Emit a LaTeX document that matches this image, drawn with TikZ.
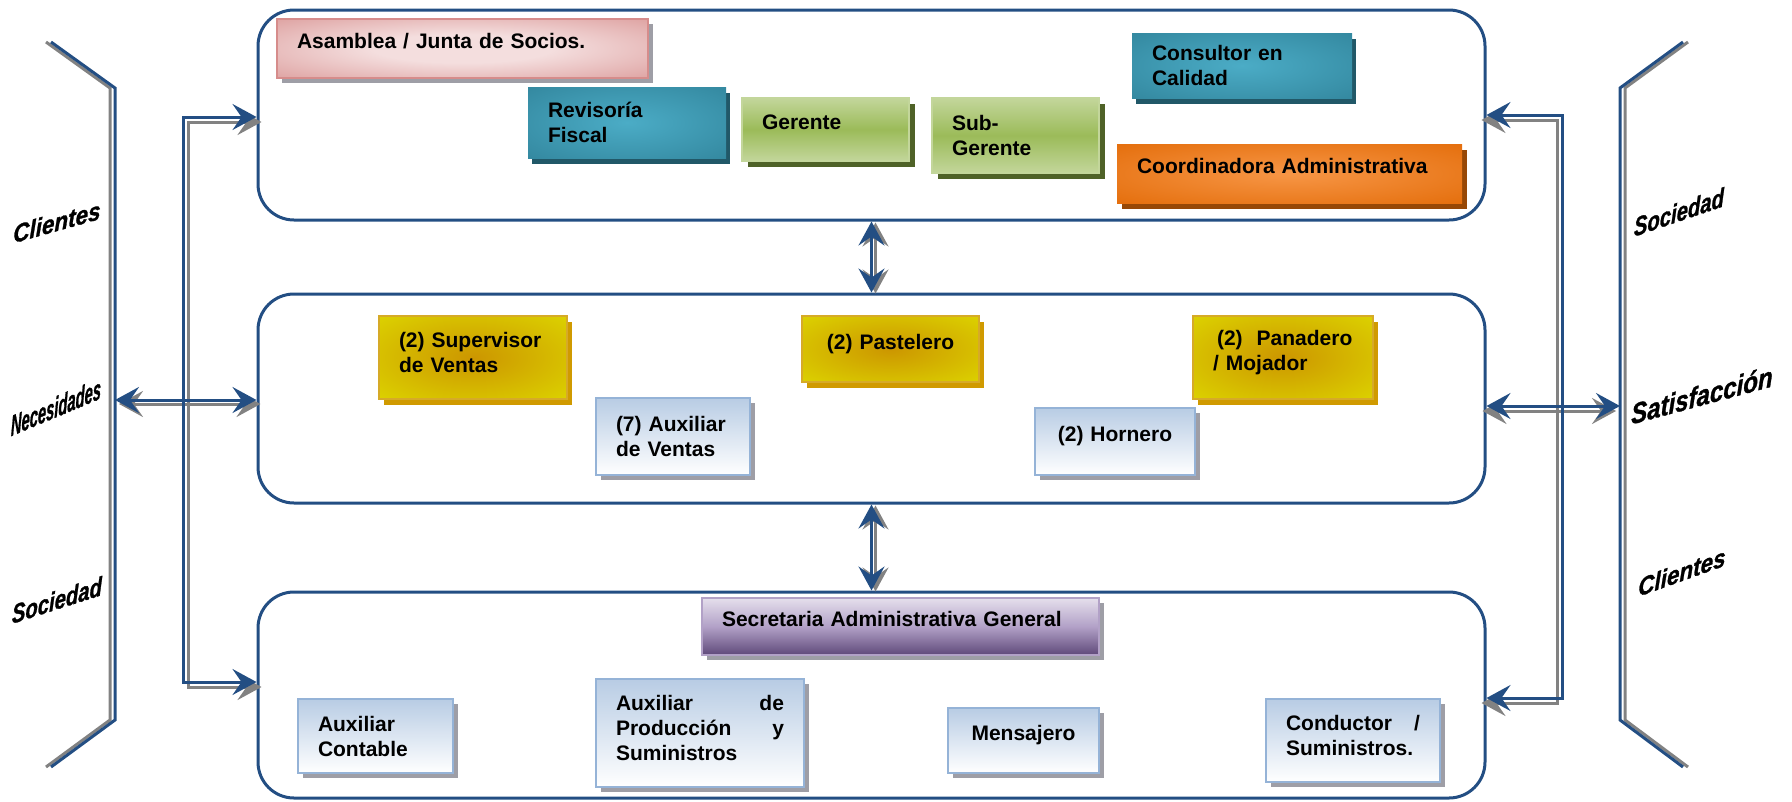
\documentclass[tikz,border=0pt]{standalone}
\usepackage{fontspec}
\setmainfont{Liberation Sans}
\IfFontExistsTF{Liberation Sans Bold Italic}
  {\newfontfamily\labfont{Liberation Sans Bold Italic}[FakeBold=1.2]}
  {\newcommand\labfont{\bfseries\itshape}}
\usepackage{graphicx}
\usetikzlibrary{arrows.meta,shadows}

% palette
\definecolor{navy}{RGB}{35,78,131}
\definecolor{shade}{RGB}{130,130,130}
\definecolor{pinkC}{RGB}{244,222,222}
\definecolor{pinkE}{RGB}{214,140,139}
\definecolor{tealC}{RGB}{75,172,198}
\definecolor{tealE}{RGB}{49,132,155}
\definecolor{tealS}{RGB}{33,88,104}
\definecolor{greenL}{RGB}{195,214,155}
\definecolor{greenM}{RGB}{155,187,89}
\definecolor{greenS}{RGB}{79,98,40}
\definecolor{orangeC}{RGB}{247,150,70}
\definecolor{orangeE}{RGB}{227,108,9}
\definecolor{orangeS}{RGB}{151,72,6}
\definecolor{goldC}{RGB}{204,150,0}
\definecolor{goldE}{RGB}{221,214,0}
\definecolor{goldS}{RGB}{208,154,0}
\definecolor{goldB}{RGB}{214,170,40}
\definecolor{lavT}{RGB}{229,223,236}
\definecolor{lavM}{RGB}{178,161,199}
\definecolor{lavB}{RGB}{95,73,122}
\definecolor{blueT}{RGB}{184,204,228}
\definecolor{blueB}{RGB}{149,179,215}
\definecolor{patgray}{RGB}{158,158,166}

% soft centre-to-edge glows for the box fills
\pgfdeclareradialshading{pinkglow}{\pgfpoint{0bp}{0bp}}{color(0bp)=(pinkC); color(12bp)=(pinkC); color(45bp)=(pinkE); color(50bp)=(pinkE)}
\pgfdeclareradialshading{tealglow}{\pgfpoint{0bp}{0bp}}{color(0bp)=(tealC); color(40bp)=(tealE); color(50bp)=(tealE)}
\pgfdeclareradialshading{orangeglow}{\pgfpoint{0bp}{0bp}}{color(0bp)=(orangeC); color(38bp)=(orangeE); color(50bp)=(orangeE)}
\pgfdeclareradialshading{goldglow}{\pgfpoint{0bp}{0bp}}{color(0bp)=(goldC); color(38bp)=(goldE); color(50bp)=(goldE)}

\tikzset{
  panel/.style={draw=navy, line width=3pt, rounded corners=36pt, minimum width=1227pt, inner sep=0pt},
  box/.style={font=\fontsize{21}{25}\selectfont\bfseries, align=left, inner xsep=20pt, inner ysep=0pt},
  single/.style={text height=15pt, text depth=15pt},
  patshadow/.style={drop shadow={shadow xshift=5pt, shadow yshift=-5pt, fill=patgray, opacity=1}},
  pinkbox/.style={box, shade, shading=pinkglow, draw=pinkE, line width=1.2pt, patshadow},
  tealbox/.style={box, shade, shading=tealglow, drop shadow={shadow xshift=4pt, shadow yshift=-6pt, fill=tealS, opacity=1}},
  greenbox/.style={box, top color=greenL, bottom color=greenL, middle color=greenM, draw=greenL, line width=2pt,
    drop shadow={shadow xshift=6pt, shadow yshift=-6pt, fill=greenS, opacity=1}},
  orangebox/.style={box, shade, shading=orangeglow, drop shadow={shadow xshift=5pt, shadow yshift=-6pt, fill=orangeS, opacity=1}},
  goldbox/.style={box, shade, shading=goldglow, draw=goldB, line width=2pt,
    drop shadow={shadow xshift=5pt, shadow yshift=-6pt, fill=goldS, opacity=1}},
  lavbox/.style={box, top color=lavT, bottom color=lavB, middle color=lavM, draw=lavM, line width=2pt, patshadow},
  bluebox/.style={box, top color=blueT, bottom color=white, draw=blueB, line width=2pt, patshadow},
  link/.style={draw=navy, line width=3pt, >={Stealth[length=24pt,width=26pt,inset=9pt]}, <->},
  linkshadow/.style={link, draw=shade},
  bracket/.style={draw=navy, line width=3pt},
  bracketshadow/.style={draw=shade, line width=3pt},
  lab/.style={font=\fontsize{22}{26}\selectfont\labfont, inner sep=0pt}
}

\begin{document}
\begin{tikzpicture}[x=1pt, y=-1pt]
\useasboundingbox (0,0) rectangle (1792,801);

% three levels
\node[panel, minimum height=210] (top) at (871.5,115) {};
\node[panel, minimum height=209] (mid) at (871.5,398.5) {};
\node[panel, minimum height=206] (bot) at (871.5,695) {};

% bracket and bend points
\coordinate (lb1) at (51,42);   \coordinate (lb2) at (115,88);
\coordinate (lb3) at (115,720); \coordinate (lb4) at (51,767);
\coordinate (rb1) at (1683,42); \coordinate (rb2) at (1620,88);
\coordinate (rb3) at (1620,720); \coordinate (rb4) at (1683,767);
\coordinate (lA) at (183,117);  \coordinate (lB) at (183,682);
\coordinate (rA) at (1562,115); \coordinate (rB) at (1562,698);
\coordinate (lm) at (115,400);  \coordinate (rm) at (1620,406);

% grey shadows of the outer brackets and connectors
\draw[bracketshadow, transform canvas={xshift=-5pt}] (lb1) -- (lb2) -- (lb3) -- (lb4);
\draw[bracketshadow, transform canvas={xshift=5pt}] (rb1) -- (rb2) -- (rb3) -- (rb4);
\draw[linkshadow, transform canvas={xshift=5pt,yshift=-5pt}] (top.west |- lA) -- (lA) -- (lB) -- (bot.west |- lB);
\draw[linkshadow, transform canvas={xshift=-5pt,yshift=-5pt}] (top.east |- rA) -- (rA) -- (rB) -- (bot.east |- rB);
\draw[linkshadow, transform canvas={xshift=4pt,yshift=-4pt}] (lm) -- (mid.west |- lm);
\draw[linkshadow, transform canvas={xshift=-4pt,yshift=-5pt}] (mid.east |- rm) -- (rm);
\draw[linkshadow, transform canvas={xshift=4pt,yshift=-1pt}] (top.south) -- (mid.north);
\draw[linkshadow, transform canvas={xshift=4pt,yshift=-1pt}] (mid.south) -- (bot.north);

% outer brackets and connectors
\draw[bracket] (lb1) -- (lb2) -- (lb3) -- (lb4);
\draw[bracket] (rb1) -- (rb2) -- (rb3) -- (rb4);
\draw[link] (top.west |- lA) -- (lA) -- (lB) -- (bot.west |- lB);
\draw[link] (top.east |- rA) -- (rA) -- (rB) -- (bot.east |- rB);
\draw[link] (lm) -- (mid.west |- lm);
\draw[link] (mid.east |- rm) -- (rm);
\draw[link] (top.south) -- (mid.north);
\draw[link] (mid.south) -- (bot.north);

% direction level
\node[pinkbox, single, text width=331, minimum height=59] (asam) at (462.5,48.5) {Asamblea / Junta de Socios.};
\node[tealbox, text width=158, minimum height=71] (rev) at (627,122.5) {Revisoría\\Fiscal};
\node[greenbox, single, text width=127, minimum height=63] (ger) at (825.5,129.5) {Gerente};
\node[greenbox, text width=127, minimum height=75] (sub) at (1015.5,135.5) {Sub-\\Gerente};
\node[tealbox, text width=180, minimum height=65] (cons) at (1242,65.5) {Consultor en\\Calidad};
\node[orangebox, single, text width=305, minimum height=59] (coord) at (1289.5,173.5) {Coordinadora Administrativa};

% production and sales level
\node[goldbox, text width=148, minimum height=83, text depth=36pt] (sup) at (473,357.5) {(2) Supervisor\\de Ventas};
\node[bluebox, text width=114, minimum height=77] (aux7) at (673,436.5) {(7) Auxiliar\\de Ventas};
\node[goldbox, single, align=center, text width=137, minimum height=66] (past) at (890.5,349) {(2) Pastelero};
\node[goldbox, text width=140, minimum height=83, text depth=40pt] (pan) at (1283,357.5) {\hspace{4pt}(2)\ \ Panadero\\/ Mojador};
\node[bluebox, single, align=center, text width=120, minimum height=67] (horn) at (1115,441.5) {(2) Hornero};

% support level
\node[lavbox, single, text width=357, minimum height=57] (sec) at (900.5,626.5) {Secretaria Administrativa General};
\node[bluebox, text width=115, minimum height=74] (auxc) at (375.5,736) {Auxiliar\\Contable};
\node[bluebox, text width=168, minimum height=108, text depth=60pt] (auxp) at (700,733) {Auxiliar\hfill de\\Producción\hfill y\\Suministros};
\node[bluebox, single, align=center, text width=111, minimum height=65] (mens) at (1023.5,740.5) {Mensajero};
\node[bluebox, text width=134, minimum height=83, text depth=35pt] (cond) at (1353,740.5) {Conductor\hfill /\\Suministros.};

% side labels, sheared upwards to the right
\node[lab, yslant=0.28] (clL) at (57,222) {\scalebox{1.02}[1.15]{Clientes}};
\node[lab, yslant=0.42] (nec) at (56,407) {\scalebox{0.67}[1.32]{Necesidades}};
\node[lab, yslant=0.32] (socL) at (57,600) {\scalebox{0.92}[1.2]{Sociedad}};
\node[lab, yslant=0.34] (socR) at (1679,212) {\scalebox{0.92}[1.2]{Sociedad}};
\node[lab, yslant=0.27] (sat) at (1702,395) {\fontsize{24}{28}\selectfont\scalebox{1}[1.2]{Satisfacción}};
\node[lab, yslant=0.36] (clR) at (1682,572) {\scalebox{1.02}[1.15]{Clientes}};
\end{tikzpicture}
\end{document}
